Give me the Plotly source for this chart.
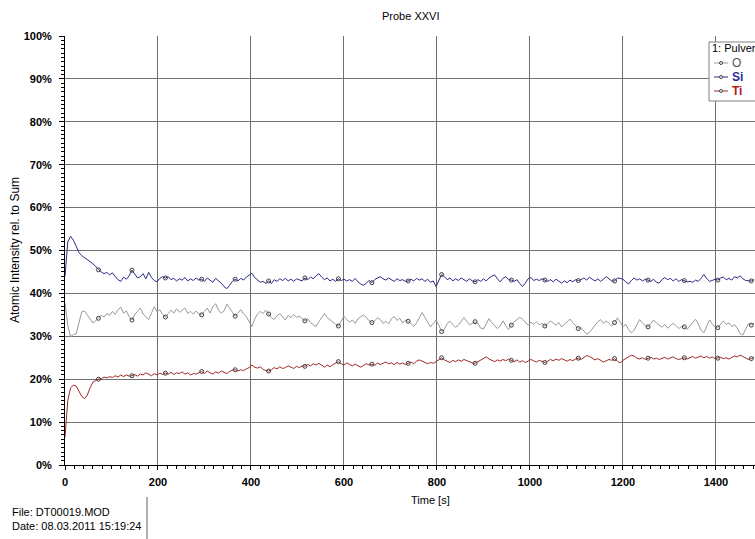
import plotly.graph_objects as go

STEP = 6  # sampling interval [s]

si_vals = [44.0, 52.0, 53.3, 52.4, 51.0, 49.5, 48.8, 48.4, 47.9, 47.4, 46.9, 46.2, 45.5, 45.0, 44.6, 44.9, 44.3, 44.8, 43.9, 43.2,
           42.8, 43.8, 43.3, 44.1, 45.4, 44.6, 43.6, 43.9, 44.6, 43.4, 44.9, 43.7, 43.0, 42.7, 43.5, 43.9, 43.6, 43.9, 43.2, 43.5,
           42.9, 43.4, 43.1, 43.7, 42.9, 43.4, 43.0, 43.6, 43.1, 43.3, 42.8, 43.6, 43.2, 42.6, 43.5, 43.0, 42.4, 41.6, 41.1, 41.9,
           42.8, 43.3, 42.9, 43.5, 43.1, 43.8, 44.2, 44.7, 43.7, 43.2, 42.6, 42.8, 42.3, 42.9, 42.3, 43.2, 42.8, 43.4, 43.0, 43.5,
           42.9, 43.3, 42.8, 43.4, 43.1, 42.9, 43.6, 43.2, 43.8, 43.4, 44.1, 44.6, 43.8, 43.2, 43.6, 42.9, 43.3, 42.8, 43.4, 43.0,
           43.3, 42.9, 43.2, 42.8, 43.5, 42.7, 42.2, 41.9, 42.4, 43.0, 42.5, 43.2, 43.6, 43.9, 43.4, 43.1, 43.6, 43.2, 42.8, 43.4,
           43.0, 43.2, 42.8, 42.9, 43.3, 42.9, 43.5, 43.1, 43.4, 42.8, 43.3, 42.6, 42.9, 41.6, 43.1, 44.4, 43.9, 43.2, 43.6, 42.9,
           43.4, 43.0, 43.6, 43.1, 42.8, 43.4, 42.9, 42.7, 43.2, 42.8, 43.4, 42.9, 43.6, 44.0, 44.3, 43.4, 42.7, 43.5, 43.9, 43.2,
           43.1, 42.8, 43.2, 42.3, 41.6, 42.4, 43.4, 43.7, 43.0, 43.3, 43.0, 43.4, 43.1, 42.8, 43.2, 42.7, 43.3, 42.9, 42.4, 42.9,
           42.5, 43.1, 42.7, 43.2, 43.0, 43.2, 43.6, 43.1, 43.8, 43.3, 42.9, 43.4, 42.8, 43.3, 43.9, 43.4, 42.9, 42.9, 43.6, 43.5,
           43.3, 42.7, 42.2, 43.0, 43.6, 43.1, 43.4, 42.9, 43.3, 43.1, 42.8, 43.3, 42.6, 42.4, 43.2, 43.7, 43.2, 43.5, 42.9, 43.4,
           42.8, 43.2, 43.0, 42.7, 42.8, 42.6, 43.1, 42.8, 43.5, 44.4, 43.5, 42.8, 43.0, 43.3, 43.1, 43.6, 43.8, 43.2, 43.5, 43.1,
           43.9, 43.6, 44.1, 43.4, 43.0, 42.9, 42.9, 43.2]

o_vals = [37.8, 32.5, 29.9, 30.4, 30.6, 33.5, 35.7, 35.9, 35.0, 34.0, 33.1, 33.6, 34.2, 34.9, 34.5, 35.3, 34.9, 35.8, 35.1, 36.2,
          36.8, 35.4, 35.9, 34.6, 33.8, 35.1, 35.8, 36.6, 35.2, 34.6, 33.9, 35.4, 36.9, 35.7, 36.2, 35.1, 34.5, 35.3, 36.1, 35.4,
          36.4, 35.6, 36.0, 36.6, 35.3, 35.8, 35.2, 35.9, 35.2, 35.0, 35.8, 36.6, 35.4, 36.9, 37.6, 36.1, 35.4, 35.9, 37.5, 36.6,
          35.6, 34.7, 35.4, 36.2, 35.2, 34.6, 33.4, 32.3, 34.0, 35.2, 35.8, 35.3, 36.1, 35.2, 34.3, 33.9, 34.8, 35.3, 34.6, 33.8,
          34.9, 34.3, 35.1, 34.4, 34.7, 34.2, 33.6, 34.1, 33.2, 32.7, 32.3, 33.4, 34.3, 35.3, 34.4, 33.8, 33.3, 32.8, 32.4, 33.6,
          34.7, 33.9, 33.3, 33.8, 33.0, 34.1, 34.6, 35.0, 34.4, 33.6, 33.2, 33.6, 34.3, 33.9, 33.0, 33.5, 32.9, 34.1, 34.6, 33.7,
          34.2, 33.1, 33.7, 33.5, 33.0, 32.3, 33.1, 34.2, 35.5, 34.4, 33.3, 32.2, 33.0, 33.8, 32.6, 31.1, 31.6, 33.0, 33.5, 32.8,
          32.1, 32.6, 33.5, 34.4, 33.5, 32.7, 33.0, 33.4, 33.0, 31.9, 31.7, 33.0, 34.1, 33.2, 32.4, 31.8, 32.4, 33.6, 32.5, 31.6,
          32.6, 33.4, 33.9, 34.4, 34.0, 33.2, 32.6, 33.3, 32.8, 33.4, 32.7, 33.0, 32.4, 32.9, 33.6, 33.1, 32.6, 33.2, 32.2, 32.8,
          33.5, 34.0, 33.2, 32.4, 31.8, 32.0, 31.3, 30.5, 30.9, 31.8, 32.6, 33.4, 33.9, 33.0, 33.6, 32.9, 32.4, 33.2, 34.3, 33.3,
          32.2, 32.8, 31.6, 30.8, 31.4, 32.7, 33.9, 33.1, 32.5, 32.2, 33.0, 33.8, 33.1, 32.6, 32.1, 32.8, 31.9, 32.5, 33.0, 32.5,
          31.8, 32.3, 32.2, 31.6, 32.4, 33.3, 34.0, 32.9, 31.4, 30.8, 32.2, 33.8, 32.9, 32.1, 32.0, 32.7, 33.6, 32.8, 33.1, 32.3,
          32.7, 31.9, 30.6, 30.3, 31.7, 33.0, 32.6, 33.1]

ti_vals = [6.5, 15.0, 18.0, 18.6, 18.4, 17.2, 16.0, 15.5, 16.3, 18.0, 19.3, 19.7, 20.0, 20.1, 20.5, 20.3, 20.6, 20.4, 20.8, 20.5,
           21.0, 20.6, 21.0, 20.7, 20.8, 21.1, 20.7, 21.2, 21.0, 21.5, 21.1, 20.8, 21.3, 21.0, 21.4, 21.1, 21.4, 21.2, 21.6, 21.1,
           21.5, 21.3, 21.7, 21.2, 21.5, 21.0, 21.3, 21.2, 21.5, 21.8, 21.3, 21.9, 21.5, 21.2, 21.7, 21.4, 21.9, 21.6, 21.3, 21.8,
           22.1, 22.2, 21.9, 22.2, 22.0, 22.4, 22.7, 23.3, 22.8, 22.6, 22.9, 22.3, 22.0, 21.9, 22.2, 22.7, 22.4, 22.9, 22.5, 22.7,
           23.1, 22.8, 22.5, 23.0, 22.7, 23.1, 23.0, 23.4, 23.1, 23.6, 23.3, 23.7, 23.2, 22.8, 23.3, 22.9, 23.4, 23.7, 24.1, 23.6,
           23.3, 23.8, 23.4, 23.1, 23.5, 23.2, 22.8, 23.2, 23.6, 23.3, 23.5, 23.2, 23.8, 23.4, 23.7, 24.0, 23.6, 23.8, 23.4, 23.9,
           23.5, 23.8, 23.4, 23.7, 24.0, 23.6, 24.2, 24.5, 24.2, 23.9, 23.6, 23.9, 23.7, 24.1, 24.6, 25.0, 24.5, 24.2, 23.9, 24.4,
           24.1, 24.5, 24.2, 24.6, 24.3, 24.0, 23.8, 23.7, 24.1, 24.5, 24.9, 25.2, 24.7, 24.4, 24.1, 24.5, 24.2, 24.6, 24.3, 24.7,
           24.4, 24.1, 24.5, 24.0, 24.3, 23.9, 24.2, 24.6, 24.3, 24.0, 24.4, 24.1, 23.9, 24.2, 24.6, 24.3, 24.7, 24.4, 24.8, 24.5,
           24.2, 24.6, 24.3, 24.7, 24.9, 24.6, 25.0, 25.5, 25.3, 24.9, 24.5, 24.8, 24.4, 24.0, 24.3, 24.6, 24.4, 24.8, 24.2, 23.8,
           24.4, 24.9, 25.2, 25.6, 25.4, 24.9, 24.7, 25.0, 24.6, 24.9, 25.1, 24.7, 24.9, 24.6, 24.8, 25.1, 24.7, 24.9, 25.2, 24.8,
           24.6, 24.8, 25.0, 24.7, 25.1, 25.3, 24.9, 25.2, 25.4, 25.0, 25.3, 24.9, 25.2, 24.8, 24.9, 25.1, 24.8, 25.0, 24.7, 25.1,
           25.4, 25.2, 25.6, 25.3, 24.9, 24.6, 24.8, 25.1]

marker_times = [72, 144, 216, 294, 366, 438, 516, 588, 660, 738, 810, 882, 960, 1032, 1104, 1182, 1254, 1332, 1404, 1476]

x_ticks = [0, 200, 400, 600, 800, 1000, 1200, 1400]
y_ticks = [0, 10, 20, 30, 40, 50, 60, 70, 80, 90, 100]

series = [
    ("O", o_vals, "#999999"),
    ("Si", si_vals, "#2a2a8a"),
    ("Ti", ti_vals, "#a02828"),
]

FONT = "Liberation Sans, Arial, sans-serif"

W, H = 755, 539
# plot area in pixels: left 65, top 36, right 755, bottom 465
L, T, R, B = 65, 36, 0, 539 - 465
PW, PH = W - L - R, H - T - B


def px(xw):
    return (xw - L) / PW


def py(yw):
    return (H - B - yw) / PH


fig = go.Figure()
for name, vals, col in series:
    t = [STEP * i for i in range(len(vals))]
    fig.add_trace(go.Scatter(x=t, y=vals, mode="lines", name=name,
                             line=dict(color=col, width=1), showlegend=False,
                             hoverinfo="skip"))
    mt = [m for m in marker_times if m // STEP < len(vals)]
    mv = [vals[m // STEP] for m in mt]
    fig.add_trace(go.Scatter(x=mt, y=mv, mode="markers", showlegend=False,
                             marker=dict(symbol="circle-open", size=4,
                                         color="#404040", line=dict(width=1)),
                             hoverinfo="skip"))

shapes = []
annotations = []

# legend box (clipped at right edge, like the reference)
shapes.append(dict(type="rect", xref="paper", yref="paper",
                   x0=px(709), x1=px(770), y0=py(101), y1=py(42),
                   fillcolor="white", line=dict(color="#808080", width=1), layer="above"))
annotations.append(dict(xref="paper", yref="paper", x=px(710), y=py(48),
                        text="1: Pulver", showarrow=False, xanchor="left",
                        yanchor="middle", font=dict(family=FONT, size=11, color="#000000")))
leg_rows = [(63, "O", "#999999", "#555555"), (77, "Si", "#2a2a8a", "#2a2a9a"),
            (91, "Ti", "#a02828", "#b02020")]
for yrow, name, col, tcol in leg_rows:
    shapes.append(dict(type="line", xref="paper", yref="paper",
                       x0=px(714), x1=px(728), y0=py(yrow), y1=py(yrow),
                       line=dict(color=col, width=1), layer="above"))
    shapes.append(dict(type="circle", xref="paper", yref="paper",
                       x0=px(719.5), x1=px(722.5), y0=py(yrow + 1.5), y1=py(yrow - 1.5),
                       fillcolor="white", line=dict(color="#444444", width=1), layer="above"))
    annotations.append(dict(xref="paper", yref="paper", x=px(730), y=py(yrow),
                            text="<b>%s</b>" % name if name != "O" else name,
                            showarrow=False, xanchor="left", yanchor="middle",
                            font=dict(family=FONT, size=12, color=tcol)))

# axis titles
annotations.append(dict(xref="paper", yref="paper", x=px(430), y=py(500),
                        text="Time [s]", showarrow=False, xanchor="center", yanchor="middle",
                        font=dict(family=FONT, size=11, color="#000000")))
annotations.append(dict(xref="paper", yref="paper", x=px(15), y=py(250),
                        text="Atomic Intensity rel. to Sum", showarrow=False, textangle=-90,
                        xanchor="center", yanchor="middle",
                        font=dict(family=FONT, size=12, color="#000000")))
# title
annotations.append(dict(xref="paper", yref="paper", x=px(410), y=py(16),
                        text="Probe XXVI", showarrow=False, xanchor="center", yanchor="middle",
                        font=dict(family=FONT, size=11, color="#000000")))
# file info
annotations.append(dict(xref="paper", yref="paper", x=px(10), y=py(519),
                        text="File: DT00019.MOD<br>Date: 08.03.2011 15:19:24", showarrow=False,
                        xanchor="left", yanchor="middle", align="left",
                        font=dict(family=FONT, size=11, color="#000000")))
shapes.append(dict(type="line", xref="paper", yref="paper",
                   x0=px(147), x1=px(147), y0=py(497), y1=py(539),
                   line=dict(color="#606060", width=1)))

fig.update_layout(
    width=W, height=H,
    margin=dict(l=L, r=R, t=T, b=B, autoexpand=False),
    paper_bgcolor="white", plot_bgcolor="white",
    font=dict(family=FONT, size=11, color="#000000"),
    shapes=shapes, annotations=annotations,
    showlegend=False,
)
fig.update_xaxes(range=[0, 1484], tickvals=x_ticks, ticktext=[str(v) for v in x_ticks],
                 showgrid=True, gridcolor="#707070", gridwidth=1,
                 showline=True, linecolor="#000000", linewidth=1,
                 ticks="outside", ticklen=4, tickcolor="#000000",
                 minor=dict(dtick=20, ticklen=3, tickcolor="#000000", ticks="outside", showgrid=False),
                 tickfont=dict(family=FONT, size=11, weight="bold"),
                 ticklabelstandoff=3,
                 zeroline=False)
fig.update_yaxes(range=[0, 100], tickvals=y_ticks, ticktext=["%d%%" % v for v in y_ticks],
                 showgrid=True, gridcolor="#707070", gridwidth=1,
                 showline=True, linecolor="#000000", linewidth=1,
                 ticks="outside", ticklen=5, tickcolor="#000000",
                 minor=dict(dtick=1, ticklen=3, tickcolor="#000000", ticks="outside", showgrid=False),
                 tickfont=dict(family=FONT, size=11, weight="bold"),
                 ticklabelstandoff=5,
                 zeroline=False)

fig.write_html("out.html", config={"displayModeBar": False},
               post_script="document.body.style.margin='0px';document.body.style.overflow='hidden';")
